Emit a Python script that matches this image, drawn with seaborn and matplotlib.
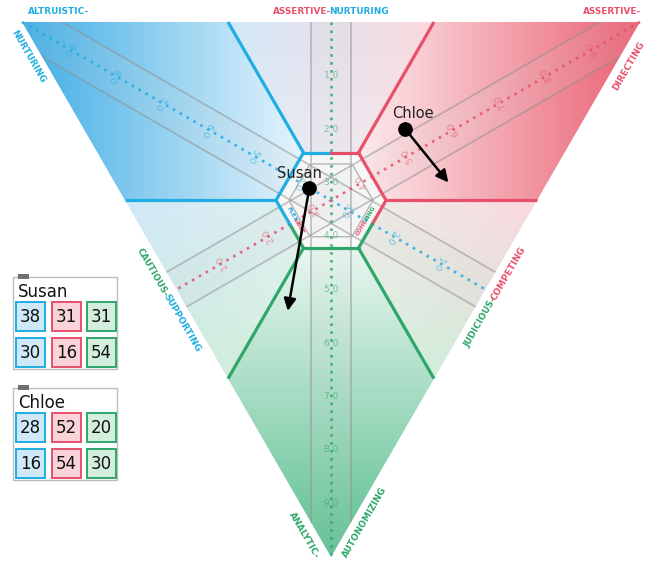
import numpy as np
import matplotlib
matplotlib.use("Agg")
import matplotlib.pyplot as plt
import seaborn as sns
import pandas as pd
from matplotlib.patches import Polygon, Rectangle

# ---------------- data ----------------
names = ["Susan", "Chloe"]
first_blue = [38, 28]
first_red = [31, 52]
first_green = [31, 20]
second_blue = [30, 16]
second_red = [16, 54]
second_green = [54, 30]
axis_ticks = [10, 20, 30, 40, 50, 60, 70, 80, 90]

# ---------------- style ----------------
sns.set_theme(style="white")
plt.rcParams["font.family"] = ["DejaVu Sans"]

BLUE = np.array([0.25, 0.68, 0.90])
RED = np.array([0.92, 0.38, 0.45])
GREEN = np.array([0.36, 0.75, 0.57])
PALE_B = np.array([0.82, 0.91, 0.97])
PALE_R = np.array([0.98, 0.85, 0.87])
PALE_G = np.array([0.82, 0.93, 0.86])
LBLUE = "#1fade3"
LRED = "#e8506a"
LGREEN = "#2fa66a"

W, H = 646, 564
TL = np.array([22.0, 22.0])
TR = np.array([640.0, 22.0])
BOT = np.array([331.0, 557.0])
C = (TL + TR + BOT) / 3.0
HEX_R = 55.0


def tern(b, r, g):
    b, r, g = np.asarray(b, float), np.asarray(r, float), np.asarray(g, float)
    s = b + r + g
    x = (b * TL[0] + r * TR[0] + g * BOT[0]) / s
    y = (b * TL[1] + r * TR[1] + g * BOT[1]) / s
    return x, y


fig = plt.figure(figsize=(W / 100, H / 100), dpi=100)
ax = fig.add_axes([0, 0, 1, 1])
ax.set_xlim(0, W)
ax.set_ylim(H, 0)
ax.axis("off")

tri = Polygon([TL, TR, BOT], closed=True, facecolor="none", edgecolor="none")
ax.add_patch(tri)

# ---------------- background colouring ----------------
xs = np.arange(W) + 0.5
ys = np.arange(H) + 0.5
X, Y = np.meshgrid(xs, ys)
g = (Y - TL[1]) / (BOT[1] - TL[1])
r = (X - TL[0] * (1 - g) - BOT[0] * g) / (TR[0] - TL[0])
b = 1 - g - r
t3 = 1 / 3.0
img = np.ones((H, W, 3))


def corner(t, col):
    f = np.clip(0.14 + t * 0.86, 0.1, 1.0)[..., None]
    return 1 - f * (1 - col)


def middle(w1, w2, wo, c1, c2):
    s = np.clip(0.5 + (w1 - w2) * 1.6, 0, 1)[..., None]
    base = s * c1 + (1 - s) * c2
    k = np.clip(0.6 + 0.4 * (1 - 3 * wo), 0.3, 1)[..., None]
    return 1 - k * (1 - base)


tB = np.clip((300 - X) / (300 - 22), 0, 1)
tR = np.clip((X - 362) / (640 - 362), 0, 1)
tG = np.clip((Y - 250) / (557 - 250), 0, 1)
mB = (r < t3) & (g < t3)
mR = (b < t3) & (g < t3)
mG = (b < t3) & (r < t3)
mTop = (g < t3) & (b >= t3) & (r >= t3)
mLeft = (r < t3) & (b >= t3) & (g >= t3)
mRight = (b < t3) & (r >= t3) & (g >= t3)
img[mB] = corner(tB, BLUE)[mB]
img[mR] = corner(tR, RED)[mR]
img[mG] = corner(tG, GREEN)[mG]
img[mTop] = middle(b, r, g, PALE_B, PALE_R)[mTop]
img[mLeft] = middle(b, g, r, PALE_B, PALE_G)[mLeft]
img[mRight] = middle(r, g, b, PALE_R, PALE_G)[mRight]

dx, dy = X - C[0], Y - C[1]
hexm = (np.abs(dy) <= HEX_R * np.sqrt(3) / 2) & (np.sqrt(3) * np.abs(dx) + np.abs(dy) <= np.sqrt(3) * HEX_R)
img[hexm] = np.array([0.985, 0.985, 0.985])

# grey bands along the three axes
band = 20.0
dir_b = (C - TL) / np.linalg.norm(C - TL)
dir_r = (C - TR) / np.linalg.norm(C - TR)
n_b = np.array([-dir_b[1], dir_b[0]])
n_r = np.array([-dir_r[1], dir_r[0]])
db = np.abs((X - TL[0]) * n_b[0] + (Y - TL[1]) * n_b[1])
dr = np.abs((X - TR[0]) * n_r[0] + (Y - TR[1]) * n_r[1])
dg = np.abs(X - C[0])
for d in (db, dr, dg):
    m = d < band
    img[m] = img[m] * 0.9 + 0.08

im = ax.imshow(img, extent=(0, W, H, 0), origin="upper", zorder=0, interpolation="bilinear")
im.set_clip_path(tri)

# grey band lines
L = 900
for p0, dvec, nv in ((TL, dir_b, n_b), (TR, dir_r, n_r), (np.array([C[0], 0.0]), np.array([0.0, 1.0]), np.array([1.0, 0.0]))):
    for sgn in (-1, 1):
        q = p0 + nv * band * sgn
        ln, = ax.plot([q[0] - dvec[0] * L, q[0] + dvec[0] * L], [q[1] - dvec[1] * L, q[1] + dvec[1] * L],
                      color="#8f8f8f", lw=1.2, alpha=0.55, zorder=2)
        ln.set_clip_path(tri)

# inner grey hexagon
ang = np.deg2rad(np.arange(0, 361, 60))
ax.plot(C[0] + 42 * np.cos(ang), C[1] + 42 * np.sin(ang), color="#b5b5b5", lw=1.0, zorder=2)

# dotted axes
mid_right = (TR + BOT) / 2
mid_left = (TL + BOT) / 2
mid_top = (TL + TR) / 2
dots = (0, (1, 2.0))
ax.plot([TL[0], mid_right[0]], [TL[1], mid_right[1]], ls=dots, lw=1.9, color=LBLUE, alpha=0.85, zorder=3)
ax.plot([TR[0], mid_left[0]], [TR[1], mid_left[1]], ls=dots, lw=1.9, color=LRED, alpha=0.85, zorder=3)
ax.plot([mid_top[0], BOT[0]], [mid_top[1], BOT[1]], ls=dots, lw=1.9, color=LGREEN, alpha=0.85, zorder=3)

# tick labels along axes (digits split by the dotted line)
for v in axis_ticks:
    o = (100 - v) / 2
    lab = " ".join(str(v))
    x, y = tern(v, o, o)
    ax.text(x, y, lab, color=LBLUE, alpha=0.6, fontsize=6.5, rotation=-120, ha="center", va="center", zorder=3)
    x, y = tern(o, v, o)
    ax.text(x, y, lab, color=LRED, alpha=0.6, fontsize=6.5, rotation=120, ha="center", va="center", zorder=3)
    x, y = tern(o, o, v)
    ax.text(x, y, lab, color=LGREEN, alpha=0.6, fontsize=6.5, ha="center", va="center", zorder=3)

# ---------------- coloured boundaries ----------------
def hexv(deg):
    a = np.deg2rad(deg)
    return C + HEX_R * np.array([np.cos(a), np.sin(a)])


lw = 2.3
for deg, col, (bb, rr, gg) in ((240, LBLUE, (2, 1, 0)), (180, LBLUE, (2, 0, 1)), (300, LRED, (1, 2, 0)),
                               (0, LRED, (0, 2, 1)), (120, LGREEN, (1, 0, 2)), (60, LGREEN, (0, 1, 2))):
    p = hexv(deg)
    ex, ey = tern(bb, rr, gg)
    ax.plot([p[0], ex], [p[1], ey], color=col, lw=lw, zorder=4, solid_capstyle="butt")

segs = [
    (240, 270, LBLUE), (270, 300, LRED),
    (180, 240, LBLUE), (300, 360, LRED),
    (120, 150, LGREEN), (150, 180, LBLUE),
    (0, 30, LRED), (30, 60, LGREEN),
    (60, 120, LGREEN),
]
for a0, a1, col in segs:
    if a1 - a0 == 60:
        p0, p1 = hexv(a0), hexv(a1)
    else:
        full0 = (a0 // 60) * 60
        e0, e1 = hexv(full0), hexv(full0 + 60)
        mid = (e0 + e1) / 2
        if a0 % 60 == 0:
            p0, p1 = e0, mid
        else:
            p0, p1 = mid, e1
    ax.plot([p0[0], p1[0]], [p0[1], p1[1]], color=col, lw=lw, zorder=4, solid_capstyle="round")

# ---------------- texts ----------------
renderer = fig.canvas.get_renderer()
LBL_FS = 6.4


def text_width(s, fs):
    t = ax.text(0, 0, s, fontsize=fs, fontweight="bold")
    w = t.get_window_extent(renderer=renderer).width
    t.remove()
    return w


def multi_text(pieces, center, angle, fs=LBL_FS, kern=-2.0):
    widths = [text_width(s, fs) for s, _ in pieces]
    tot = sum(widths) + kern * (len(pieces) - 1)
    a = np.deg2rad(angle)
    d = np.array([np.cos(a), -np.sin(a)])
    start = np.array(center) - d * tot / 2
    off = 0
    for (s, c), w in zip(pieces, widths):
        p = start + d * off
        ax.text(p[0], p[1], s, color=c, fontsize=fs, fontweight="bold", rotation=angle,
                rotation_mode="anchor", ha="left", va="center", zorder=6)
        off += w + kern


ax.text(28, 12, "ALTRUISTIC-", color=LBLUE, fontsize=LBL_FS, fontweight="bold", ha="left", va="center")
ax.text(641, 12, "ASSERTIVE-", color=LRED, fontsize=LBL_FS, fontweight="bold", ha="right", va="center")
multi_text([("ASSERTIVE-", LRED), ("NURTURING", LBLUE)], (331, 12), 0)


def left_edge(y, off=12):
    x = TL[0] + (y - TL[1]) * (BOT[0] - TL[0]) / (BOT[1] - TL[1])
    return (x - 0.866 * off, y + 0.5 * off)


def right_edge(y, off=12):
    x = TR[0] + (y - TR[1]) * (BOT[0] - TR[0]) / (BOT[1] - TR[1])
    return (x + 0.866 * off, y + 0.5 * off)


multi_text([("NURTURING", LBLUE)], left_edge(51), -60)
multi_text([("CAUTIOUS-", LGREEN), ("SUPPORTING", LBLUE)], left_edge(294), -60)
multi_text([("ANALYTIC-", LGREEN)], left_edge(529), -60)
multi_text([("DIRECTING", LRED)], right_edge(60), 60)
multi_text([("JUDICIOUS-", LGREEN), ("COMPETING", LRED)], right_edge(291), 60)
multi_text([("AUTONOMIZING", LGREEN)], right_edge(516), 60)

pl = (hexv(120) + hexv(180)) / 2 + np.array([0.866, -0.5]) * 7
pr = (hexv(0) + hexv(60)) / 2 + np.array([-0.866, -0.5]) * 7
multi_text([("FLEX", LBLUE), ("IBLE", LRED)], pl, -60, fs=4.3, kern=-0.5)
multi_text([("COHE", LRED), ("RING", LGREEN)], pr, 60, fs=4.3, kern=-0.5)

# ---------------- people ----------------
x1, y1 = tern(first_blue, first_red, first_green)
x2, y2 = tern(second_blue, second_red, second_green)
for i in range(len(names)):
    ax.annotate("", xy=(x2[i], y2[i]), xytext=(x1[i], y1[i]),
                arrowprops=dict(arrowstyle="-|>", color="black", lw=1.8, mutation_scale=18,
                                shrinkA=0, shrinkB=0), zorder=7)
pts = pd.DataFrame({"x": x1, "y": y1, "name": names})
sns.scatterplot(data=pts, x="x", y="y", color="black", s=95, edgecolor="black", ax=ax, zorder=8, legend=False)
ax.set_xlim(0, W)
ax.set_ylim(H, 0)
ax.axis("off")
name_offsets = [(-10, -14), (8, -15)]
for i, nm in enumerate(names):
    ax.text(x1[i] + name_offsets[i][0], y1[i] + name_offsets[i][1], nm, fontsize=10.5,
            color="#222222", ha="center", va="center", zorder=9)

# ---------------- legend cards ----------------
card_tops = [277, 388]
edge_cols = [LBLUE, LRED, LGREEN]
fill_cols = ["#cfe9f8", "#f9d3d8", "#d3eedc"]
sq_x = [16, 52, 87]
for i, nm in enumerate(names):
    top = card_tops[i]
    ax.add_patch(Rectangle((13, top), 104, 92, facecolor="white", edgecolor="#bdbdbd", lw=1.0, zorder=5))
    ax.add_patch(Rectangle((18, top - 3), 11, 5, facecolor="#707070", edgecolor="none", zorder=6))
    ax.text(18, top + 15, nm, fontsize=12, color="#111111", ha="left", va="center", zorder=6)
    rows = [[first_blue[i], first_red[i], first_green[i]], [second_blue[i], second_red[i], second_green[i]]]
    for ri, row in enumerate(rows):
        yy = top + 25 + ri * 36
        for ci, val in enumerate(row):
            ax.add_patch(Rectangle((sq_x[ci], yy), 29, 29, facecolor=fill_cols[ci], edgecolor=edge_cols[ci],
                                   lw=1.4, zorder=6))
            ax.text(sq_x[ci] + 14.5, yy + 15, str(val), fontsize=12, color="#111111",
                    ha="center", va="center", zorder=7)

fig.savefig("out.png", dpi=100)
